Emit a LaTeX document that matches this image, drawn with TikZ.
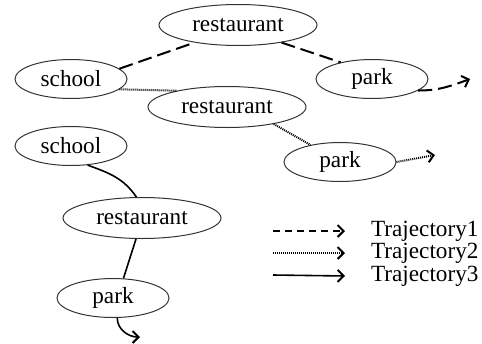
\documentclass[tikz,border=0pt]{standalone}
\usepackage{fontspec}
\newfontfamily\trajfont{Liberation Serif}
\usetikzlibrary{shapes.geometric,arrows.meta}

\begin{document}
\begin{tikzpicture}
[x=0.5pt,y=-0.5pt,%
  every node/.style={font=\trajfont\fontsize{11.6}{13}\selectfont},%
  place/.style={shape=ellipse,draw=black!80,line width=0.5pt,inner sep=0pt,
    minimum width=56pt,minimum height=19.5pt},%
  wide/.style={place,minimum width=79pt,minimum height=20.5pt},%
  tip/.style={-{Straight Barb[length=3pt,width=6pt,line width=1pt]}},%
  traj1/.style={line width=1pt,dash pattern=on 7pt off 3pt},%
  traj2/.style={line width=1pt,dash pattern=on 0.5pt off 0.5pt},%
  traj3/.style={line width=0.8pt}]
\useasboundingbox (0,0) rectangle (482,343);
\node[wide]  (rest1)   at (238,25)  {restaurant};
\node[place] (school1) at (71,79)   {school};
\node[place] (park1)   at (372,79)  {park};
\node[wide]  (rest2)   at (227,107) {restaurant};
\node[place] (park2)   at (340,162) {park};
\node[place] (school2) at (71,146)  {school};
\node[wide]  (rest3)   at (142,218) {restaurant};
\node[place] (park3)   at (113,298) {park};
\coordinate (end1) at (470,79);
\coordinate (end2) at (435,155);
\coordinate (end3) at (140,337);
\draw[traj1] (school1.12) -- (rest1.-158);
\draw[traj1] (rest1.-22) -- (park1.152);
\draw[traj1,tip] (park1.-14) to[out=0,in=200] (end1);
\draw[traj2] (school1.-12) -- (rest2.162);
\draw[traj2] (rest2.-20) -- (park2.150);
\draw[traj2,tip] (park2.east) -- (end2);
\draw[traj3] (school2.-49) to[out=-20,in=124] (rest3.105);
\draw[traj3] (rest3.-106) -- (park3.62);
\draw[traj3,tip] (park3.-78) to[out=-90,in=180] (end3);
\node[anchor=west] (lab1) at (364,231) {Trajectory1};
\node[anchor=west] (lab2) at (364,253) {Trajectory2};
\node[anchor=west] (lab3) at (364,276) {Trajectory3};
\coordinate (key1) at (273,231);
\coordinate (key2) at (273,253);
\coordinate (key3) at (273,275);
\draw[traj1,dash pattern=on 3.5pt off 2.5pt,tip] (key1) -- ([xshift=-9.5pt]lab1.west);
\draw[traj2,tip] (key2) -- ([xshift=-9.5pt]lab2.west);
\draw[traj3,tip] (key3) -- ([xshift=-9.5pt]lab3.west);
\end{tikzpicture}
\end{document}
